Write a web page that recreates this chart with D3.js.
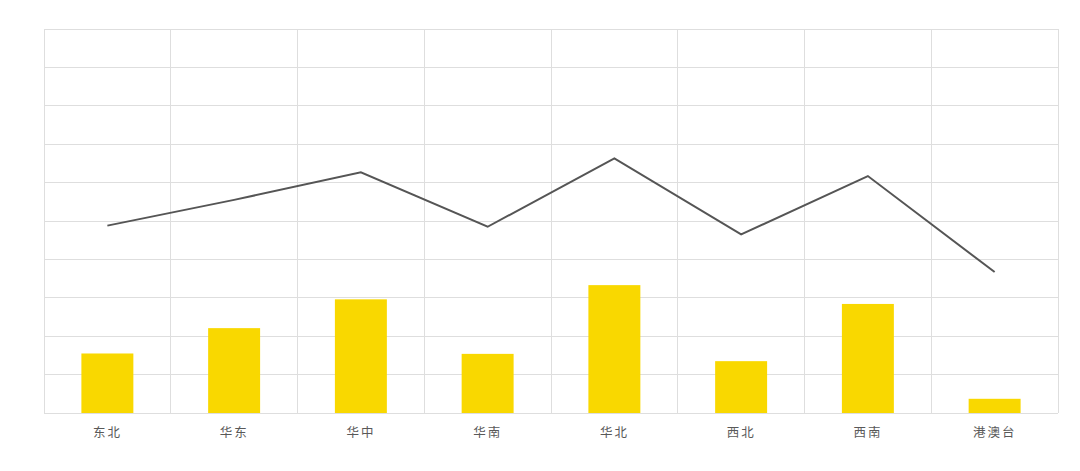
<!DOCTYPE html>
<html>
<head>
<meta charset="utf-8">
<title>Regions</title>
<script src="https://d3js.org/d3.v7.min.js"></script>
<style>
    body { margin: 0; background: #fff; }
    .grid line { stroke: #dedede; stroke-width: 1px; shape-rendering: crispEdges; }
    .x.axis text { font: 12.5px "Noto Sans CJK SC", sans-serif; fill: #595959; letter-spacing: 2px; }
    .line { fill: none; stroke: #555; stroke-width: 2px; }
</style>
</head>
<body>
<script>
// regions on the x axis
var regions = ["东北", "华东", "华中", "华南", "华北", "西北", "西南", "港澳台"];
var barValues = [1.55, 2.21, 2.96, 1.54, 3.33, 1.35, 2.84, 0.37];
// line series
var lineValues = [4.88, 5.55, 6.27, 4.85, 6.63, 4.65, 6.17, 3.67];
// horizontal gridline positions
var yTicks = [0, 1, 2, 3, 4, 5, 6, 7, 8, 9, 10];

var margin = { top: 29, right: 22, bottom: 58, left: 44 },
    width = 1080 - margin.left - margin.right,
    height = 471 - margin.top - margin.bottom;

var svg = d3.select("body").append("svg")
    .attr("width", 1080)
    .attr("height", 471)
    .append("g")
    .attr("transform", "translate(" + margin.left + "," + margin.top + ")");

var x = d3.scaleBand().domain(regions).range([0, width]);
var y = d3.scaleLinear().domain([0, 10]).range([height, 0]);

// horizontal grid
svg.append("g").attr("class", "grid")
    .selectAll("line").data(yTicks).enter().append("line")
    .attr("x1", 0).attr("x2", width)
    .attr("y1", function (d) { return y(d); })
    .attr("y2", function (d) { return y(d); });

// vertical grid (band edges)
var edges = regions.map(function (r) { return x(r); }).concat([width]);
svg.append("g").attr("class", "grid")
    .selectAll("line").data(edges).enter().append("line")
    .attr("x1", function (d) { return d; })
    .attr("x2", function (d) { return d; })
    .attr("y1", 0).attr("y2", height);

// bars
var barW = x.bandwidth() * 0.41;
svg.selectAll(".bar").data(barValues).enter().append("rect")
    .attr("class", "bar")
    .attr("x", function (d, i) { return x(regions[i]) + x.bandwidth() / 2 - barW / 2; })
    .attr("y", function (d) { return y(d); })
    .attr("width", barW)
    .attr("height", function (d) { return height - y(d); })
    .attr("fill", "#f9d800");

// line
var line = d3.line()
    .x(function (d, i) { return x(regions[i]) + x.bandwidth() / 2; })
    .y(function (d) { return y(d); });

svg.append("path")
    .datum(lineValues)
    .attr("class", "line")
    .attr("d", line);

// x axis labels
var xAxis = d3.axisBottom(x).tickSize(0).tickPadding(15);
svg.append("g")
    .attr("class", "x axis")
    .attr("transform", "translate(0," + height + ")")
    .call(xAxis)
    .call(function (g) { g.select(".domain").remove(); });
</script>
</body>
</html>
